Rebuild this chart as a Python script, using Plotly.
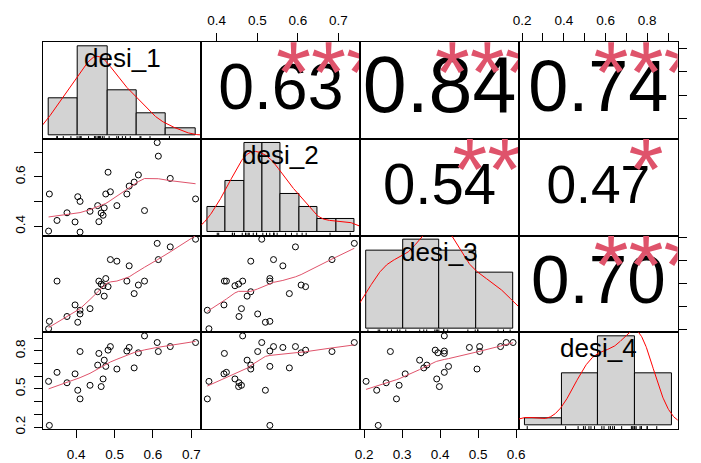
import numpy as np
import plotly.graph_objects as go

# ---------------------------------------------------------------- data
var_names = ["desi_1", "desi_2", "desi_3", "desi_4"]

desi_1 = [0.328, 0.330, 0.350, 0.376, 0.397, 0.404, 0.410, 0.410, 0.436, 0.456,
          0.459, 0.465, 0.470, 0.473, 0.477, 0.483, 0.489, 0.506, 0.532, 0.538,
          0.551, 0.562, 0.578, 0.611, 0.614, 0.645, 0.711]
desi_2 = [0.381, 0.531, 0.424, 0.455, 0.418, 0.520, 0.501, 0.377, 0.461, 0.484,
          0.419, 0.454, 0.445, 0.475, 0.531, 0.619, 0.540, 0.484, 0.531, 0.563,
          0.579, 0.608, 0.464, 0.739, 0.684, 0.594, 0.511]
desi_3 = [0.205, 0.237, 0.411, 0.258, 0.308, 0.233, 0.269, 0.285, 0.292, 0.365,
          0.411, 0.398, 0.391, 0.346, 0.422, 0.387, 0.504, 0.497, 0.411, 0.477,
          0.357, 0.394, 0.411, 0.574, 0.504, 0.559, 0.592]
desi_4 = [0.560, 0.213, 0.631, 0.549, 0.619, 0.490, 0.795, 0.422, 0.529, 0.688,
          0.780, 0.519, 0.579, 0.727, 0.678, 0.806, 0.834, 0.657, 0.799, 0.827,
          0.666, 0.785, 0.918, 0.866, 0.795, 0.834, 0.866]

# histogram break points per variable
breaks_1 = [0.30, 0.40, 0.50, 0.60, 0.70, 0.80]
breaks_2 = [0.35, 0.40, 0.45, 0.50, 0.55, 0.60, 0.65, 0.70, 0.75]
breaks_3 = [0.20, 0.30, 0.40, 0.50, 0.60]
breaks_4 = [0.20, 0.40, 0.60, 0.80, 1.00]

# axis ticks: positions, labels along columns (x) and along rows (y)
ticks_1 = [0.4, 0.5, 0.6, 0.7]
ticks_2 = [0.4, 0.5, 0.6, 0.7]
ticks_3 = [0.2, 0.3, 0.4, 0.5, 0.6]
ticks_4 = [0.2, 0.3, 0.4, 0.5, 0.6, 0.7, 0.8, 0.9]
col_labels_1 = ["0.4", "0.5", "0.6", "0.7"]
col_labels_2 = ["0.4", "0.5", "0.6", "0.7"]
col_labels_3 = ["0.2", "0.3", "0.4", "0.5", "0.6"]
col_labels_4 = ["0.2", "", "0.4", "", "0.6", "", "0.8", ""]
row_labels_1 = ["0.4", "", "0.6", ""]
row_labels_2 = ["0.4", "", "0.6", ""]
row_labels_3 = ["0.2", "", "0.4", "", "0.6"]
row_labels_4 = ["0.2", "", "", "0.5", "", "", "0.8", ""]

# pairwise correlations (upper triangle) and significance stars
cor_pairs = [(0, 1), (0, 2), (0, 3), (1, 2), (1, 3), (2, 3)]
cor_values = [0.63, 0.84, 0.74, 0.54, 0.47, 0.70]
cor_stars = ["***", "***", "***", "**", "*", "***"]

data = [np.array(desi_1), np.array(desi_2), np.array(desi_3), np.array(desi_4)]
breaks = [breaks_1, breaks_2, breaks_3, breaks_4]
ticks = [ticks_1, ticks_2, ticks_3, ticks_4]
col_labels = [col_labels_1, col_labels_2, col_labels_3, col_labels_4]
row_labels = [row_labels_1, row_labels_2, row_labels_3, row_labels_4]

# ---------------------------------------------------------------- helpers
W, H = 701, 463
LEFT, RIGHT, TOP, BOTTOM = 42.7, 677.7, 42.3, 429.0
FONT = "Liberation Sans, Arial, Helvetica, sans-serif"
TICK_FONT = dict(family=FONT, size=13.5, color="black")
SMOOTH_COL = "#DF536B"


def pad_range(lo, hi, frac=0.04):
    d = (hi - lo) * frac
    return [lo - d, hi + d]


def lowess(x, y, f=2 / 3, iters=3):
    order = np.argsort(x, kind="stable")
    x = np.asarray(x, float)[order]
    y = np.asarray(y, float)[order]
    n = len(x)
    ns = max(min(int(f * n + 1e-7), n), 2)
    rng = x[-1] - x[0]
    rw = np.ones(n)
    fit = np.zeros(n)
    for it in range(iters + 1):
        for i in range(n):
            d = np.abs(x - x[i])
            h = np.sort(d)[ns - 1]
            w = np.zeros(n)
            inside = d <= 0.999 * h
            near = d <= 0.001 * h
            w[inside] = (1 - (d[inside] / h) ** 3) ** 3
            w[near] = 1.0
            w *= rw
            s = w.sum()
            if s <= 0:
                fit[i] = y[i]
                continue
            w /= s
            if h > 0:
                a = (w * x).sum()
                c = (w * (x - a) ** 2).sum()
                if np.sqrt(c) > 0.001 * rng:
                    b = (x[i] - a) / c
                    w = w * (b * (x - a) + 1.0)
            fit[i] = (w * y).sum()
        if it == iters:
            break
        res = np.abs(y - fit)
        cmad = 6 * np.median(res)
        if cmad < 1e-7 * np.mean(np.abs(y)):
            break
        r = res / cmad
        rw = np.where(r <= 0.001, 1.0, np.where(r <= 0.999, (1 - r ** 2) ** 2, 0.0))
    return x, fit


def density(v, npts=512):
    v = np.asarray(v, float)
    n = len(v)
    sd = v.std(ddof=1)
    q75, q25 = np.percentile(v, [75, 25])
    bw = 0.9 * min(sd, (q75 - q25) / 1.34) * n ** -0.2
    grid = np.linspace(v.min() - 3 * bw, v.max() + 3 * bw, npts)
    z = (grid[:, None] - v[None, :]) / bw
    dens = np.exp(-0.5 * z ** 2).sum(axis=1) / (n * bw * np.sqrt(2 * np.pi))
    return grid, dens


def hist_density(v, br):
    br = np.asarray(br, float)
    idx = np.searchsorted(br, v, side="left") - 1
    idx = np.clip(idx, 0, len(br) - 2)
    counts = np.bincount(idx, minlength=len(br) - 1)
    widths = np.diff(br)
    return (br[:-1] + br[1:]) / 2, counts / (len(v) * widths), widths


def tick_style(side, angle, vals, text, standoff, labels=True):
    return dict(ticks="outside", ticklen=8, tickwidth=1, tickcolor="black",
                showticklabels=labels, side=side, tickangle=angle,
                tickmode="array", tickvals=vals, ticktext=text,
                ticklabelstandoff=standoff)


# ---------------------------------------------------------------- figure
fig = go.Figure()
layout = {}
annotations = []
xs = np.linspace(LEFT, RIGHT, 5)
ys = np.linspace(TOP, BOTTOM, 5)
nvar = len(var_names)
data_rng = [pad_range(v.min(), v.max()) for v in data]
star_font = 90

for i in range(nvar):
    for j in range(nvar):
        k = i * nvar + j + 1
        xname = "xaxis" if k == 1 else f"xaxis{k}"
        yname = "yaxis" if k == 1 else f"yaxis{k}"
        xref = "x" if k == 1 else f"x{k}"
        yref = "y" if k == 1 else f"y{k}"
        xax = dict(domain=[xs[j] / W, xs[j + 1] / W], anchor=yref,
                   showgrid=False, zeroline=False, showline=True, mirror=True,
                   linecolor="black", linewidth=1, ticks="", showticklabels=False,
                   fixedrange=True, automargin=False, tickfont=TICK_FONT)
        yax = dict(domain=[1 - ys[i + 1] / H, 1 - ys[i] / H], anchor=xref,
                   showgrid=False, zeroline=False, showline=True, mirror=True,
                   linecolor="black", linewidth=1, ticks="", showticklabels=False,
                   fixedrange=True, automargin=False, tickfont=TICK_FONT)

        if i == j:
            v = data[i]
            mids, dens, widths = hist_density(v, breaks[i])
            top = dens.max()
            xr = pad_range(breaks[i][0], breaks[i][-1])
            yr = [-0.04 * top, 1.04 * top]
            xax["range"] = xr
            yax["range"] = yr
            fig.add_trace(go.Bar(x=mids, y=dens, width=widths, xaxis=xref, yaxis=yref,
                                 marker=dict(color="#D3D3D3",
                                             line=dict(color="black", width=1)),
                                 showlegend=False, hoverinfo="skip"))
            gx, gd = density(v)
            fig.add_trace(go.Scatter(x=gx, y=gd, mode="lines", xaxis=xref, yaxis=yref,
                                     line=dict(color="#FF0000", width=1),
                                     showlegend=False, hoverinfo="skip"))
            # rug along the bottom edge
            rx, ry = [], []
            tick_h = 0.03 * (yr[1] - yr[0])
            for val in v:
                rx += [val, val, None]
                ry += [yr[0], yr[0] + tick_h, None]
            fig.add_trace(go.Scatter(x=rx, y=ry, mode="lines", xaxis=xref, yaxis=yref,
                                     line=dict(color="black", width=1),
                                     showlegend=False, hoverinfo="skip"))
            annotations.append(dict(text=var_names[i], x=0.5, y=0.833,
                                    xref=f"{xref} domain", yref=f"{yref} domain",
                                    showarrow=False, xanchor="center", yanchor="middle",
                                    font=dict(family=FONT, size=26, color="black")))
        else:
            xr = data_rng[j]
            yr = data_rng[i]
            xax["range"] = xr
            yax["range"] = yr
            if i > j:
                fig.add_trace(go.Scatter(x=data[j], y=data[i], mode="markers",
                                         xaxis=xref, yaxis=yref,
                                         marker=dict(symbol="circle-open", size=6,
                                                     color="black",
                                                     line=dict(color="black", width=1)),
                                         showlegend=False, hoverinfo="skip"))
                lx, ly = lowess(data[j], data[i])
                fig.add_trace(go.Scatter(x=lx, y=ly, mode="lines", xaxis=xref, yaxis=yref,
                                         line=dict(color=SMOOTH_COL, width=1),
                                         showlegend=False, hoverinfo="skip"))
            else:
                p = cor_pairs.index((i, j))
                r = cor_values[p]
                num_font = star_font * (abs(r) + 0.3) / 1.3
                panel_h = ys[i + 1] - ys[i]
                fig.add_trace(go.Scatter(
                    x=[xr[0] + 0.5 * (xr[1] - xr[0])],
                    y=[yr[0] + (0.5 - 2.0 / panel_h) * (yr[1] - yr[0])],
                    mode="text", text=[f"{r:.2f}"], textposition="middle center",
                    textfont=dict(family=FONT, size=num_font, color="black"),
                    xaxis=xref, yaxis=yref, showlegend=False, hoverinfo="skip"))
                # asterisk glyphs sit high in the em box; drop the anchor so the
                # glyphs themselves are centred on (0.8, 0.8)
                shift = 0.22 * star_font / panel_h
                fig.add_trace(go.Scatter(
                    x=[xr[0] + 0.8 * (xr[1] - xr[0])],
                    y=[yr[0] + (0.8 - shift) * (yr[1] - yr[0])],
                    mode="text", text=[cor_stars[p]], textposition="middle center",
                    textfont=dict(family=FONT, size=star_font, color=SMOOTH_COL),
                    xaxis=xref, yaxis=yref, showlegend=False, hoverinfo="skip"))

            # outer axes alternate sides like a pairs plot
            if j % 2 == 0 and i == nvar - 1:
                xax.update(tick_style("bottom", 0, ticks[j], col_labels[j], 5))
            if j % 2 == 1 and i == 0:
                xax.update(tick_style("top", 0, ticks[j], col_labels[j], 3))
            if i % 2 == 1 and j == 0:
                yax.update(tick_style("left", -90, ticks[i], row_labels[i], 3))
            if i % 2 == 0 and j == nvar - 1:
                # right-hand labels run past the page edge; draw them as
                # rotated annotations placed just beyond the ticks
                yax.update(tick_style("right", -90, ticks[i], row_labels[i], 0,
                                      labels=False))
                for tv, tt in zip(ticks[i], row_labels[i]):
                    if tt:
                        annotations.append(dict(
                            text=tt, x=(RIGHT + 19.5) / W, y=tv, xref="paper", yref=yref,
                            showarrow=False, xanchor="left", yanchor="middle",
                            textangle=-90, font=TICK_FONT))

        layout[xname] = xax
        layout[yname] = yax

fig.update_layout(**layout)
fig.update_layout(width=W, height=H,
                  margin=dict(l=0, r=0, t=0, b=0, pad=0, autoexpand=False),
                  paper_bgcolor="white", plot_bgcolor="white",
                  annotations=annotations, showlegend=False, bargap=0,
                  font=dict(family=FONT, color="black"))

fig.write_html("out.html")
